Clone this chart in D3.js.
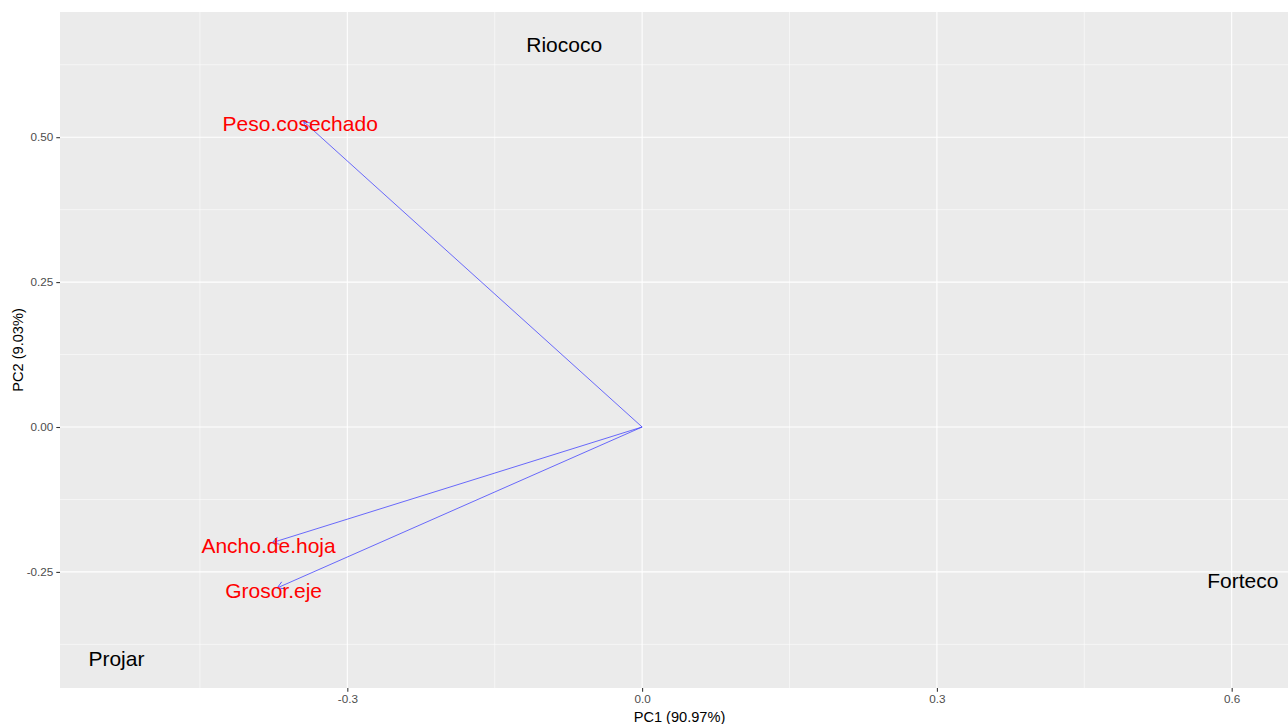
<!DOCTYPE html>
<html>
<head>
<meta charset="utf-8">
<script src="https://cdn.jsdelivr.net/npm/d3@7"></script>
<style>
  body { margin: 0; background: #fff; }
  svg { display: block; font-family: "Liberation Sans", Arial, sans-serif; }
</style>
</head>
<body>
<svg id="chart"></svg>
<script>
// variable loadings (arrow tips)
const varNames = ["Peso.cosechado", "Ancho.de.hoja", "Grosor.eje"];
const varPC1 = [-0.3445, -0.3764, -0.3713];
const varPC2 = [0.527, -0.1995, -0.2776];

// sample labels
const sampleNames = ["Riococo", "Projar", "Forteco"];
const samplePC1 = [-0.0793, -0.535, 0.6114];
const samplePC2 = [0.6600, -0.3995, -0.2655];

// axis ticks
const xTicks = [-0.3, 0, 0.3, 0.6];
const xTickLabels = ["-0.3", "0.0", "0.3", "0.6"];
const xMinor = [-0.45, -0.15, 0.15, 0.45];
const yTicks = [-0.25, 0, 0.25, 0.5];
const yTickLabels = ["-0.25", "0.00", "0.25", "0.50"];
const yMinor = [-0.375, -0.125, 0.125, 0.375, 0.625];

const width = 1288, height = 724;
const panel = {left: 60, right: 1299, top: 12, bottom: 688};

const svg = d3.select("#chart")
    .attr("width", width)
    .attr("height", height);

const x = d3.scaleLinear()
    .domain([-0.5924, 0.6685])
    .range([panel.left, panel.right]);
const y = d3.scaleLinear()
    .domain([-0.4503, 0.716])
    .range([panel.bottom, panel.top]);

// panel background
svg.append("rect")
    .attr("x", panel.left)
    .attr("y", panel.top)
    .attr("width", panel.right - panel.left)
    .attr("height", panel.bottom - panel.top)
    .attr("fill", "#EBEBEB");

const grid = svg.append("g");
grid.selectAll(".xminor").data(xMinor).join("line")
    .attr("x1", d => x(d)).attr("x2", d => x(d))
    .attr("y1", panel.top).attr("y2", panel.bottom)
    .attr("stroke", "#fff").attr("stroke-width", 0.53);
grid.selectAll(".yminor").data(yMinor).join("line")
    .attr("y1", d => y(d)).attr("y2", d => y(d))
    .attr("x1", panel.left).attr("x2", panel.right)
    .attr("stroke", "#fff").attr("stroke-width", 0.53);
grid.selectAll(".xmajor").data(xTicks).join("line")
    .attr("x1", d => x(d)).attr("x2", d => x(d))
    .attr("y1", panel.top).attr("y2", panel.bottom)
    .attr("stroke", "#fff").attr("stroke-width", 1.07);
grid.selectAll(".ymajor").data(yTicks).join("line")
    .attr("y1", d => y(d)).attr("y2", d => y(d))
    .attr("x1", panel.left).attr("x2", panel.right)
    .attr("stroke", "#fff").attr("stroke-width", 1.07);

// axes
const xAxis = d3.axisBottom(x)
    .tickValues(xTicks)
    .tickFormat((d, i) => xTickLabels[i])
    .tickSize(3.7)
    .tickPadding(3);
const yAxis = d3.axisLeft(y)
    .tickValues(yTicks)
    .tickFormat((d, i) => yTickLabels[i])
    .tickSize(3.7)
    .tickPadding(3);

const gx = svg.append("g")
    .attr("transform", `translate(0, ${panel.bottom})`)
    .call(xAxis);
const gy = svg.append("g")
    .attr("transform", `translate(${panel.left}, 0)`)
    .call(yAxis);

[gx, gy].forEach(g => {
    g.select(".domain").remove();
    g.selectAll(".tick line").attr("stroke", "#333333").attr("stroke-width", 1.07);
    g.selectAll(".tick text")
        .attr("fill", "#4D4D4D")
        .style("font-size", "11.7px")
        .style("font-family", "Liberation Sans, Arial, sans-serif");
});

// axis titles
svg.append("text")
    .attr("x", (panel.left + panel.right) / 2)
    .attr("y", 721.5)
    .attr("text-anchor", "middle")
    .style("font-size", "14.6px")
    .attr("fill", "#000")
    .text("PC1 (90.97%)");

svg.append("text")
    .attr("transform", `translate(22.5, ${(panel.top + panel.bottom) / 2}) rotate(-90)`)
    .attr("text-anchor", "middle")
    .style("font-size", "14.6px")
    .attr("fill", "#000")
    .text("PC2 (9.03%)");

// arrow marker
svg.append("defs").append("marker")
    .attr("id", "head")
    .attr("viewBox", "-10 -10 20 20")
    .attr("refX", 0).attr("refY", 0)
    .attr("markerWidth", 20).attr("markerHeight", 20)
    .attr("markerUnits", "userSpaceOnUse")
    .attr("orient", "auto")
  .append("path")
    .attr("d", "M-6.5,-3.75L0,0L-6.5,3.75")
    .attr("fill", "none")
    .attr("stroke", "#3c3cff")
    .attr("stroke-width", 0.75);

const vars = varNames.map((n, i) => ({name: n, pc1: varPC1[i], pc2: varPC2[i]}));
const samples = sampleNames.map((n, i) => ({name: n, pc1: samplePC1[i], pc2: samplePC2[i]}));

svg.append("g").selectAll("line").data(vars).join("line")
    .attr("x1", x(0)).attr("y1", y(0))
    .attr("x2", d => x(d.pc1)).attr("y2", d => y(d.pc2))
    .attr("stroke", "#3c3cff")
    .attr("stroke-width", 0.75)
    .attr("marker-end", "url(#head)");

svg.append("g").selectAll("text").data(vars).join("text")
    .attr("x", d => x(d.pc1 * 1.01))
    .attr("y", d => y(d.pc2))
    .attr("dy", "0.47em")
    .attr("text-anchor", "middle")
    .attr("fill", "#FF0000")
    .style("font-size", "21px")
    .text(d => d.name);

svg.append("g").selectAll("text").data(samples).join("text")
    .attr("x", d => x(d.pc1))
    .attr("y", d => y(d.pc2))
    .attr("dy", "0.36em")
    .attr("text-anchor", "middle")
    .attr("fill", "#000")
    .style("font-size", "21px")
    .text(d => d.name);
</script>
</body>
</html>
